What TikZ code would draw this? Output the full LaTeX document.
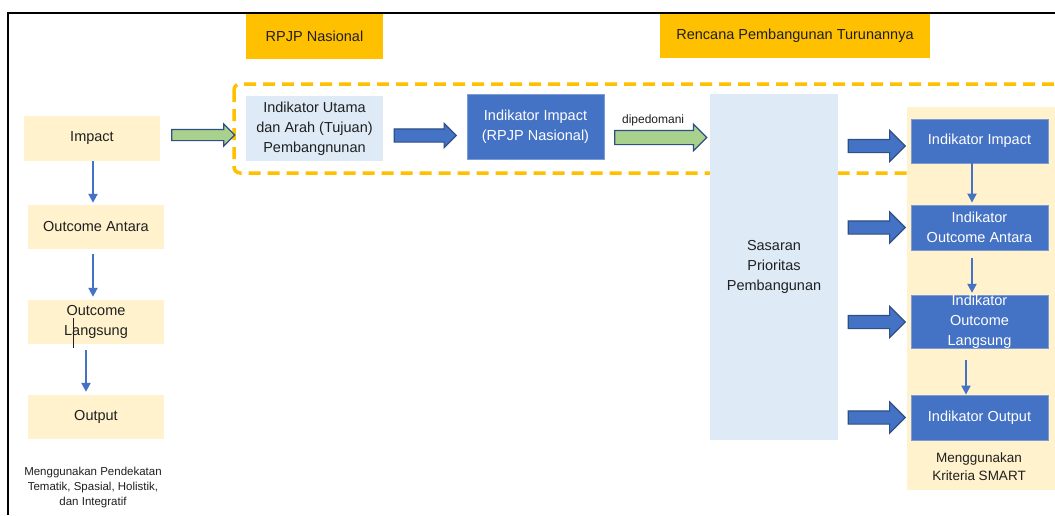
\documentclass[tikz,border=0pt]{standalone}
\usepackage{fontspec}
\setmainfont{Liberation Sans}
\usepackage{xcolor}
\usepackage{tikz}
\usetikzlibrary{positioning,calc,arrows.meta,shapes.arrows}
\definecolor{emas}{HTML}{FFC000}
\definecolor{krem}{HTML}{FFF2CC}
\definecolor{birumuda}{HTML}{DEEBF7}
\definecolor{biru}{HTML}{4472C4}
\definecolor{hijau}{HTML}{A9D18E}
\definecolor{tepi}{HTML}{2F4F85}
\definecolor{teks}{HTML}{202020}

\begin{document}
\begin{tikzpicture}[
    x=1pt, y=-1pt,
    font=\fontsize{14.5}{20}\selectfont, text=teks,
    judul/.style={fill=emas, minimum height=45pt, inner sep=0pt},
    tingkat/.style={fill=krem, minimum width=136pt, minimum height=44pt, inner sep=0pt, align=center},
    indikator/.style={fill=biru, draw=biru!70!white, line width=0.8pt, text=white, minimum width=137pt, minimum height=44pt, inner sep=0pt, align=center},
    acuan/.style={fill=birumuda, inner sep=0pt, align=center},
    panah/.style={single arrow, draw=tepi, line width=1.2pt, inner xsep=0pt, inner ysep=5pt, single arrow head extend=5.5pt},
    panahbiru/.style={panah, fill=biru},
    panahhijau/.style={panah, fill=hijau},
    turun/.style={-{Triangle[length=9pt, width=9pt]}, draw=biru, line width=2pt},
]
    \path[use as bounding box, fill=white] (0,0) rectangle (1055,515);
    \clip (0,0) rectangle (1055,515);
    \draw[line width=1.3pt, black] (8,515) -- (8,13) -- (1056,13);

    \node[judul, minimum width=137pt] (hdrNas) at (314.5,36.5) {RPJP Nasional};
    \node[judul, minimum width=270pt, minimum height=44pt] (hdrTur) at (795,36) {Rencana Pembangunan Turunannya};
    \draw[emas, line width=3.5pt, dash pattern=on 12pt off 7pt, rounded corners=6pt] (234,84) rectangle (1075,173);

    \node[tingkat, minimum height=45pt] (impact) at (92,138.5) {Impact};
    \node[tingkat] (antara) at (96,227) {Outcome Antara};
    \node[tingkat] (langsung) at (96,322) {Outcome\\Langsung};
    \node[tingkat] (output) at (96,417) {Output};
    \node[font=\fontsize{11.5}{15}\selectfont, align=center] (pendekatan) at (93,488) {Menggunakan Pendekatan\\Tematik, Spasial, Holistik,\\dan Integratif};
    \draw[line width=1pt, teks] (73,318) -- (73,348);
    \draw[turun, shorten >=2pt] ([xshift=1pt]impact.south) -- ([xshift=1pt]impact.south |- antara.north);
    \draw[turun, shorten <=5pt, shorten >=3pt] ([xshift=-3pt]antara.south) -- ([xshift=-3pt]antara.south |- langsung.north);
    \draw[turun, shorten <=6pt, shorten >=3pt] ([xshift=-10pt]langsung.south) -- ([xshift=-10pt]langsung.south |- output.north);

    \node[acuan, minimum width=137pt, minimum height=65pt] (utama) at (314.5,128.5) {Indikator Utama\\dan Arah (Tujuan)\\Pembangnunan};
    \node[indikator, minimum height=65pt] (impNas) at (535.5,126.5) {Indikator Impact\\(RPJP Nasional)};
    \node[acuan, minimum width=128pt, minimum height=346pt] (sasaran) at (774,267) {Sasaran\\Prioritas\\Pembangunan};
    \node[panahhijau, minimum height=63pt, xshift=-2.5pt, yshift=-1.5pt] (keUtama) at ($(impact.east)!.5!(utama.west)$) {};
    \node[panahbiru, minimum height=62pt, inner ysep=6pt, xshift=-3pt, yshift=-8pt] (keImpNas) at ($(utama.east)!.5!(impNas.west)$) {};
    \node[panahhijau, minimum height=92pt, inner ysep=6.5pt, single arrow head extend=6pt, yshift=-11pt] (keSasaran) at ($(impNas.east)!.5!(impNas.east -| sasaran.west)$) {};
    \node[font=\fontsize{12}{14}\selectfont] (dipedomani) at ($(keSasaran.center)+(-4,-17.5)$) {dipedomani};

    \node[fill=krem, inner sep=0pt, minimum width=153pt, minimum height=383pt] (panel) at (983.5,298.5) {};
    \node[indikator] (impR) at (979.5,141) {Indikator Impact};
    \node[indikator, minimum height=45pt] (antaraR) at (979.5,227.5) {Indikator\\Outcome Antara};
    \node[indikator] (langsungR) at (979.5,322) {Indikator\\Outcome\\Langsung};
    \node[indikator, minimum height=45pt] (outputR) at (979.5,417.5) {Indikator Output};
    \node[font=\fontsize{13.5}{18}\selectfont, align=center] (smart) at (979,467) {Menggunakan\\Kriteria SMART};
    \draw[turun, shorten >=2pt] ([xshift=-7.5pt]impR.south) -- ([xshift=-7.5pt]impR.south |- antaraR.north);
    \draw[turun, shorten <=8pt, shorten >=2pt] ([xshift=-7.5pt]antaraR.south) -- ([xshift=-7.5pt]antaraR.south |- langsungR.north);
    \draw[turun, shorten <=11pt] ([xshift=-13.5pt]langsungR.south) -- ([xshift=-13.5pt]langsungR.south |- outputR.north);
    \foreach \t/\s in {impR/-5pt, antaraR/0pt, langsungR/0pt, outputR/0pt}
        \node[panahbiru, minimum height=57pt, inner ysep=6pt, single arrow head extend=9pt, xshift=-1pt, yshift=\s] (ke\t) at ($(sasaran.east |- \t.west)!.5!(\t.west)$) {};
\end{tikzpicture}
\end{document}
